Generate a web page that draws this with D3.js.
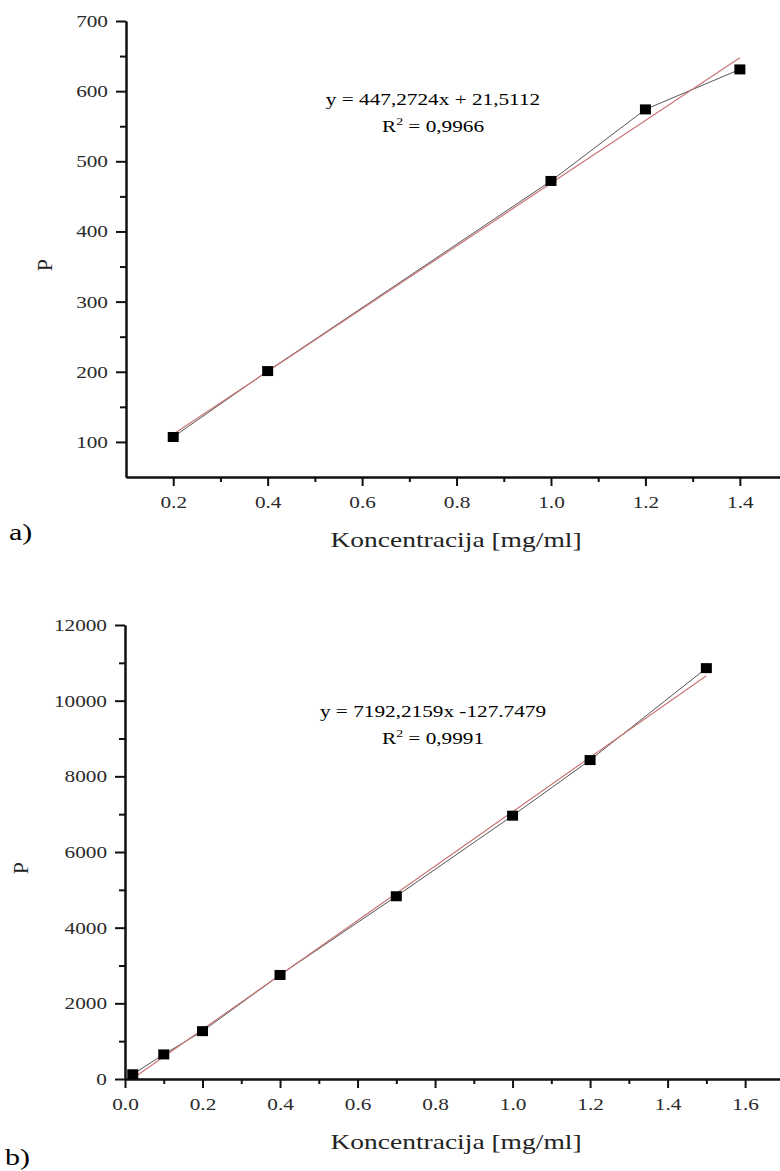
<!DOCTYPE html>
<html>
    <head>
        <meta charset="UTF-8">
        <script src="https://cdn.jsdelivr.net/npm/d3@7"></script>
        <style>
            body { margin: 0; background: white; }
            svg text { font-family: "Liberation Serif", "Times New Roman", serif; }
        </style>
    </head>
    <body>
        <div id="ChartContainer"></div>
    </body>
    <script>
        // panel a) data
        const concA = [0.2, 0.4, 1.0, 1.2, 1.4]
        const pA = [107, 201, 472, 574, 631]
        const fitA = [447.2724, 21.5112]
        const fitRangeA = [0.2, 1.4]
        const xTicksA = [0.2, 0.4, 0.6, 0.8, 1.0, 1.2, 1.4]
        const xMinorA = [0.3, 0.5, 0.7, 0.9, 1.1, 1.3]
        const yTicksA = [100, 200, 300, 400, 500, 600, 700]
        const yMinorA = [150, 250, 350, 450, 550, 650]

        // panel b) data
        const concB = [0.02, 0.1, 0.2, 0.4, 0.7, 1.0, 1.2, 1.5]
        const pB = [125, 650, 1265, 2750, 4830, 6960, 8430, 10860]
        const fitB = [7192.2159, -127.7479]
        const fitRangeB = [0.02, 1.5]
        const xTicksB = [0.0, 0.2, 0.4, 0.6, 0.8, 1.0, 1.2, 1.4, 1.6]
        const xMinorB = [0.1, 0.3, 0.5, 0.7, 0.9, 1.1, 1.3, 1.5]
        const yTicksB = [0, 2000, 4000, 6000, 8000, 10000, 12000]
        const yMinorB = [1000, 3000, 5000, 7000, 9000, 11000]

        const width = 780
        const height = 1171
        const SX = 1.25   // the original picture is stretched sideways

        const svg = d3.select("#ChartContainer")
            .append("svg")
            .attr("width", width)
            .attr("height", height)

        // move x/y of a text into a transform so it can be widened
        const stretch = (sel) => {
            sel.each(function () {
                const t = d3.select(this)
                const x = +t.attr("x") || 0
                const y = +t.attr("y") || 0
                t.attr("x", 0).attr("y", 0)
                    .attr("transform", `translate(${x},${y}) scale(${SX},1)`)
            })
        }

        const draw_panel = (p) => {
            const x = d3.scaleLinear().domain(p.xDomain).range([p.left, p.right])
            const y = d3.scaleLinear().domain(p.yDomain).range([p.bottom, p.top])
            const g = svg.append("g")

            // minor ticks
            g.append("g")
                .attr("transform", `translate(0,${p.bottom})`)
                .call(d3.axisBottom(x).tickValues(p.xMinor).tickSize(5).tickSizeOuter(0).tickFormat(""))
            g.append("g")
                .attr("transform", `translate(${p.left},0)`)
                .call(d3.axisLeft(y).tickValues(p.yMinor).tickSize(6).tickSizeOuter(0).tickFormat(""))

            const xAxis = g.append("g")
                .attr("transform", `translate(0,${p.bottom})`)
                .call(d3.axisBottom(x).tickValues(p.xTicks).tickSize(9).tickPadding(10)
                    .tickSizeOuter(0).tickFormat(d3.format(".1f")))
            const yAxis = g.append("g")
                .attr("transform", `translate(${p.left},0)`)
                .call(d3.axisLeft(y).tickValues(p.yTicks).tickSize(10).tickPadding(8)
                    .tickSizeOuter(0).tickFormat(d3.format("d")))

            g.selectAll(".domain, .tick line")
                .attr("stroke", "#111")
                .attr("stroke-width", 2)
            g.selectAll(".tick text")
                .attr("fill", "#2a2a2a")
                .style("font-size", "17px")
                .call(stretch)

            const pts = p.conc.map((c, i) => [c, p.vals[i]])

            // line through the points
            g.append("path")
                .datum(pts)
                .attr("fill", "none")
                .attr("stroke", "#555")
                .attr("stroke-width", 1)
                .attr("d", d3.line().x(d => x(d[0])).y(d => y(d[1])))

            // linear fit
            const fitPts = p.fitRange.map(c => [c, p.fit[0] * c + p.fit[1]])
            g.append("path")
                .datum(fitPts)
                .attr("fill", "none")
                .attr("stroke", "#c97676")
                .attr("stroke-width", 1.2)
                .attr("d", d3.line().x(d => x(d[0])).y(d => y(d[1])))

            g.selectAll("rect.marker")
                .data(pts)
                .enter()
                .append("rect")
                .attr("class", "marker")
                .attr("x", d => x(d[0]) - 5.5)
                .attr("y", d => y(d[1]) - 5)
                .attr("width", 11)
                .attr("height", 10)
                .attr("fill", "#000")

            // equation and R2
            g.append("text")
                .attr("x", p.eqX)
                .attr("y", p.eqY)
                .attr("text-anchor", "middle")
                .style("font-size", "17px")
                .text(p.eq)
                .call(stretch)
            const r2 = g.append("text")
                .attr("x", p.eqX)
                .attr("y", p.eqY + 27)
                .attr("text-anchor", "middle")
                .style("font-size", "17px")
            r2.append("tspan").text("R")
            r2.append("tspan").attr("dy", -7).style("font-size", "11px").text("2")
            r2.append("tspan").attr("dy", 7).text(" = " + p.r2)
            r2.call(stretch)

            // axis titles
            g.append("text")
                .attr("x", 456)
                .attr("y", p.bottom + 70)
                .attr("text-anchor", "middle")
                .style("font-size", "22px")
                .attr("fill", "#222")
                .text("Koncentracija [mg/ml]")
                .call(stretch)
            g.append("text")
                .attr("transform", `translate(${p.pX},${(p.top + p.bottom) / 2 + 16}) rotate(-90)`)
                .attr("text-anchor", "middle")
                .style("font-size", "22px")
                .attr("fill", "#222")
                .text("P")

            g.append("text")
                .attr("x", p.tagX)
                .attr("y", p.tagY)
                .style("font-size", "24px")
                .text(p.tag)
                .call(stretch)
        }

        draw_panel({
            conc: concA, vals: pA, fit: fitA, fitRange: fitRangeA,
            xTicks: xTicksA, xMinor: xMinorA, yTicks: yTicksA, yMinor: yMinorA,
            xDomain: [0.1, 1.485], yDomain: [50, 700],
            left: 126, right: 780, top: 21, bottom: 477,
            eq: "y = 447,2724x + 21,5112", r2: "0,9966", eqX: 433, eqY: 105,
            pX: 52, tag: "a)", tagX: 9, tagY: 540
        })

        draw_panel({
            conc: concB, vals: pB, fit: fitB, fitRange: fitRangeB,
            xTicks: xTicksB, xMinor: xMinorB, yTicks: yTicksB, yMinor: yMinorB,
            xDomain: [0, 1.69], yDomain: [0, 12000],
            left: 125, right: 780, top: 625, bottom: 1079,
            eq: "y = 7192,2159x -127.7479", r2: "0,9991", eqX: 433, eqY: 717,
            pX: 28, tag: "b)", tagX: 5, tagY: 1165
        })
    </script>
</html>
